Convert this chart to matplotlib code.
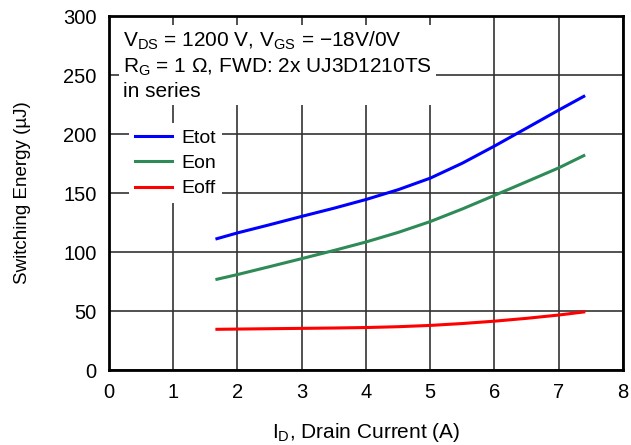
import matplotlib.pyplot as plt

plt.rcParams['font.family'] = ['Liberation Sans', 'DejaVu Sans']
plt.rcParams['mathtext.fontset'] = 'custom'
plt.rcParams['mathtext.rm'] = 'Liberation Sans'
plt.rcParams['mathtext.it'] = 'Liberation Sans'

# drain current (A)
i_d = [1.68, 2, 2.5, 3, 3.5, 4, 4.5, 5, 5.5, 6, 6.5, 7, 7.39]
etot = [111.3, 116.2, 123.1, 130.2, 137.1, 144.5, 152.8, 162.6, 175.3, 189.8, 205, 220.3, 231.9]
eon = [76.9, 80.9, 87.6, 94.4, 101.3, 108.5, 116.6, 125.8, 136.5, 148, 159.6, 171.3, 181.7]
eoff = [34.5, 34.7, 35, 35.3, 35.6, 36, 36.7, 37.8, 39.4, 41.4, 43.8, 46.6, 49.2]

fig = plt.figure(figsize=(6.31, 4.45), dpi=100)
ax = fig.add_axes([0.1727, 0.1685, 0.8146, 0.7955])

ax.plot(i_d, etot, color="#0000ff", lw=2.2, label="Etot")
ax.plot(i_d, eon, color="#2e8b57", lw=2.2, label="Eon")
ax.plot(i_d, eoff, color="#ff0000", lw=2.2, label="Eoff")

ax.set_xlim(0, 8)
ax.set_ylim(0, 300)
ax.set_xticks(range(0, 9))
ax.set_yticks(range(0, 301, 50))
ax.grid(True, color="#333333", lw=1.2)
ax.set_axisbelow(True)
for s in ax.spines.values():
    s.set_linewidth(2)
ax.tick_params(length=0, labelsize=14.5, pad=9)

ax.set_xlabel(r"I$_\mathrm{D}$, Drain Current (A)", fontsize=15, labelpad=14)
ax.set_ylabel("Switching Energy (\u00b5J)", fontsize=13.5, labelpad=23)

txt = ("V$_\\mathrm{DS}$ = 1200 V, V$_\\mathrm{GS}$ = \u221218V/0V\n"
       "R$_\\mathrm{G}$ = 1 \u03a9, FWD: 2x UJ3D1210TS\n"
       "in series")
ax.text(0.22, 288, txt, fontsize=15, va="top", ha="left", linespacing=1.27,
        bbox=dict(facecolor="white", edgecolor="none", pad=3), zorder=3)

leg = ax.legend(loc="upper left", bbox_to_anchor=(0.02, 0.725), fontsize=14,
                frameon=True, fancybox=False, handlelength=1.9, borderpad=0.3,
                labelspacing=0.4, handletextpad=0.5)
leg.get_frame().set_edgecolor("none")
leg.get_frame().set_alpha(1)

fig.savefig("out.png", dpi=100)
